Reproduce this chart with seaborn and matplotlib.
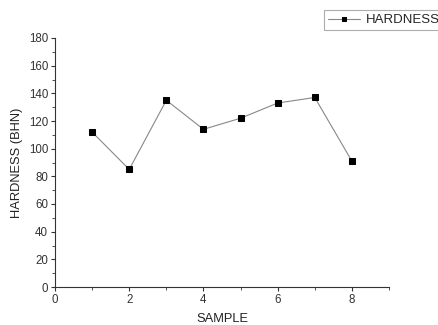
import matplotlib
matplotlib.use("Agg")
import matplotlib.pyplot as plt
import seaborn as sns
import pandas as pd
from matplotlib.ticker import MultipleLocator

sample = [1, 2, 3, 4, 5, 6, 7, 8]
hardness = [112, 85, 135, 114, 122, 133, 137, 91]

df = pd.DataFrame({"SAMPLE": sample, "HARDNESS": hardness})

sns.set_style("ticks")
plt.rcParams['font.family'] = ['Liberation Sans', 'DejaVu Sans']

fig = plt.figure(figsize=(4.39, 3.25), dpi=100)
ax = fig.add_axes([55/439, 1-287/325, (389-55)/439, (287-38)/325])

sns.lineplot(data=df, x="SAMPLE", y="HARDNESS", ax=ax, color="#888888", linewidth=0.8,
             marker="s", markersize=4.5, markerfacecolor="black", markeredgecolor="black",
             label="HARDNESS", legend=False)

ax.set_xlim(0, 9)
ax.set_ylim(0, 180)
ax.xaxis.set_major_locator(MultipleLocator(2))
ax.xaxis.set_minor_locator(MultipleLocator(1))
ax.yaxis.set_major_locator(MultipleLocator(20))
ax.yaxis.set_minor_locator(MultipleLocator(10))
ax.tick_params(which="major", length=3, width=0.8, labelsize=8.3, color="#333333", labelcolor="#333333", pad=2)
ax.tick_params(which="minor", length=2, width=0.6, color="#333333")
for s in ["top", "right"]:
    ax.spines[s].set_visible(False)
for s in ["left", "bottom"]:
    ax.spines[s].set_linewidth(0.8)
    ax.spines[s].set_color("#333333")

ax.set_xlabel("SAMPLE", fontsize=9.3, color="#222222", labelpad=5)
ax.set_ylabel("HARDNESS (BHN)", fontsize=9.3, color="#222222", labelpad=4)

handles, labels = ax.get_legend_handles_labels()
leg = fig.legend(handles, labels, loc="upper left", bbox_to_anchor=(324/439, 1-10/325),
                 fontsize=9.5, frameon=True, fancybox=False, edgecolor="#999999",
                 handlelength=2.4, borderpad=0.3, borderaxespad=0, handletextpad=0.45,
                 markerscale=0.7)
leg.get_frame().set_linewidth(0.8)

fig.savefig("out.png", dpi=100)
